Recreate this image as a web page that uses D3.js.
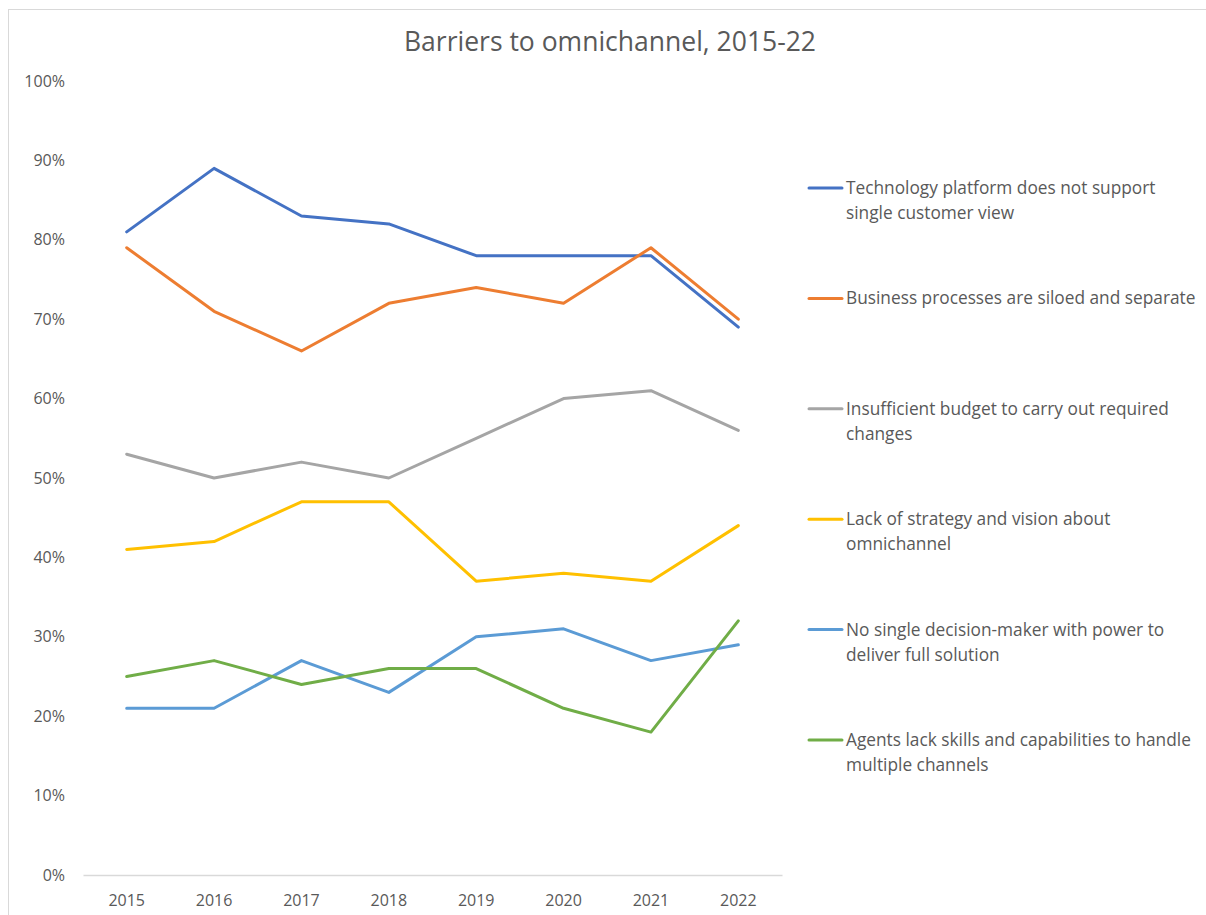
<!DOCTYPE html>
<html>
<head>
<meta charset="utf-8">
<script src="https://cdn.jsdelivr.net/npm/d3@7"></script>
<style>
  html, body { margin: 0; padding: 0; background: #fff; }
  svg { display: block; font-family: "Open Sans", Lato, sans-serif; }
</style>
</head>
<body>
<svg id="chart" width="1206" height="915"></svg>
<script>
// Survey years along the x axis
const years = ["2015", "2016", "2017", "2018", "2019", "2020", "2021", "2022"];

// Share of respondents citing each barrier (%)
const techPlatform   = [81, 89, 83, 82, 78, 78, 78, 69];
const siloedProcess  = [79, 71, 66, 72, 74, 72, 79, 70];
const budget         = [53, 50, 52, 50, 55, 60, 61, 56];
const strategy       = [41, 42, 47, 47, 37, 38, 37, 44];
const decisionMaker  = [21, 21, 27, 23, 30, 31, 27, 29];
const agentSkills    = [25, 27, 24, 26, 26, 21, 18, 32];

const seriesNames = [
  ["Technology platform does not support", "single customer view"],
  ["Business processes are siloed and separate"],
  ["Insufficient budget to carry out required", "changes"],
  ["Lack of strategy and vision about", "omnichannel"],
  ["No single decision-maker with power to", "deliver full solution"],
  ["Agents lack skills and capabilities to handle", "multiple channels"]
];
const seriesValues = [techPlatform, siloedProcess, budget, strategy, decisionMaker, agentSkills];
const seriesColors = ["#4472C4", "#ED7D31", "#A5A5A5", "#FFC000", "#5B9BD5", "#70AD47"];

const yTicks = [0, 10, 20, 30, 40, 50, 60, 70, 80, 90, 100];

const svg = d3.select("#chart");
const textColor = "#595959";

// Chart area frame
svg.append("rect")
  .attr("x", 8.5).attr("y", 9.5)
  .attr("width", 1300).attr("height", 1000)
  .attr("fill", "none").attr("stroke", "#D9D9D9").attr("stroke-width", 1);

const plot = { left: 83, right: 782, top: 81, bottom: 875 };

const x = d3.scaleBand().domain(years).range([plot.left, plot.right]);
const y = d3.scaleLinear().domain([0, 100]).range([plot.bottom, plot.top]);

// Title
svg.append("text")
  .attr("x", 610).attr("y", 51)
  .attr("text-anchor", "middle")
  .attr("font-size", 26.5)
  .attr("fill", textColor)
  .text("Barriers to omnichannel, 2015-22");

// Y axis labels (no axis line)
const yAxis = d3.axisLeft(y).tickValues(yTicks).tickSize(0).tickPadding(0)
  .tickFormat(d => d + "%");
const yg = svg.append("g").attr("transform", `translate(${65},0)`).call(yAxis)
  .attr("font-family", null).attr("font-size", null);
yg.select(".domain").remove();
yg.selectAll("text").attr("font-size", 16).attr("fill", textColor);

// X axis baseline and labels
const xAxis = d3.axisBottom(x).tickSize(0).tickPadding(20);
const xg = svg.append("g").attr("transform", `translate(0,${plot.bottom})`).call(xAxis)
  .attr("font-family", null).attr("font-size", null);
xg.select(".domain").attr("stroke", "#D9D9D9").attr("stroke-width", 1.3);
xg.selectAll("text").attr("font-size", 16).attr("fill", textColor);

// Lines
const line = d3.line()
  .x((d, i) => x(years[i]) + x.bandwidth() / 2)
  .y(d => y(d));

seriesValues.forEach((vals, k) => {
  svg.append("path")
    .datum(vals)
    .attr("d", line)
    .attr("fill", "none")
    .attr("stroke", seriesColors[k])
    .attr("stroke-width", 3)
    .attr("stroke-linejoin", "round")
    .attr("stroke-linecap", "round");
});

// Legend
const legendTop = 188, legendStep = 110.4;
seriesNames.forEach((lines, k) => {
  const ly = legendTop + k * legendStep;
  const g = svg.append("g").attr("transform", `translate(0,${ly})`);
  g.append("line")
    .attr("x1", 809).attr("x2", 842)
    .attr("y1", 0).attr("y2", 0)
    .attr("stroke", seriesColors[k]).attr("stroke-width", 3)
    .attr("stroke-linecap", "round");
  const t = g.append("text")
    .attr("x", 846).attr("y", 6)
    .attr("font-size", 17.3).attr("fill", textColor);
  lines.forEach((s, j) => {
    t.append("tspan").attr("x", 846).attr("dy", j === 0 ? 0 : 25).text(s);
  });
});
</script>
</body>
</html>
